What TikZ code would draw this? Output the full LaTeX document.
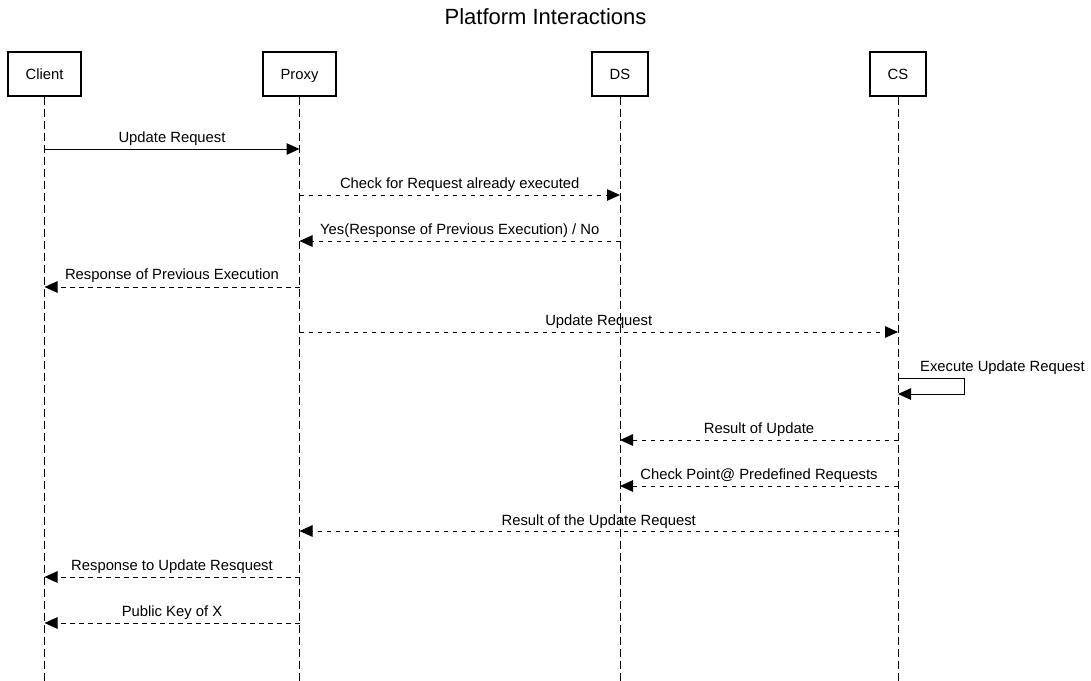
\documentclass[tikz,border=0pt]{standalone}
\usepackage{fontspec}
\setmainfont{Liberation Sans}
\usetikzlibrary{arrows.meta,calc}
\begin{document}
\begin{tikzpicture}[x=1pt,y=-1pt,
  actor/.style={draw,line width=2pt,minimum height=44pt,inner sep=0pt,text height=10.6pt,text depth=0pt,font=\fontsize{14.8}{16}\selectfont},
  life/.style={line width=1pt,dash pattern=on 8pt off 4pt},
  msg/.style={line width=1pt,-{Triangle[length=13pt,width=11.5pt]}},
  rmsg/.style={msg,dash pattern=on 4.5pt off 4.5pt},
  lbl/.style={font=\fontsize{14.8}{16}\selectfont,inner sep=0pt}]
\useasboundingbox (0,0) rectangle (1091,680);
\node[font=\fontsize{22}{24}\selectfont] (title) at (545.5,17) {Platform Interactions};
\node[actor,minimum width=73pt] (client) at (44.5,74) {Client};
\node[actor,minimum width=73pt] (proxy) at (299.5,74) {Proxy};
\node[actor,minimum width=56pt] (ds) at (620,74) {DS};
\node[actor,minimum width=56pt] (cs) at (898,74) {CS};
\foreach \a in {client,proxy,ds,cs}{
  \coordinate (\a-end) at (\a |- 0,681);
  \draw[life] (\a.south) -- (\a-end);
}
% messages
\draw[msg] (client |- 0,149) -- (proxy |- 0,149);
\node[lbl] (l1) at ($(client |- 0,139)!0.5!(proxy |- 0,139)$) {Update Request};
\draw[rmsg] (proxy |- 0,195) -- (ds |- 0,195);
\node[lbl] (l2) at ($(proxy |- 0,185)!0.5!(ds |- 0,185)$) {Check for Request already executed};
\draw[rmsg] (ds |- 0,241) -- (proxy |- 0,241);
\node[lbl] (l3) at ($(proxy |- 0,231)!0.5!(ds |- 0,231)$) {Yes(Response of Previous Execution) / No};
\draw[rmsg] (proxy |- 0,287) -- (client |- 0,287);
\node[lbl] (l4) at ($(client |- 0,276)!0.5!(proxy |- 0,276)$) {Response of Previous Execution};
\draw[rmsg] (proxy |- 0,332) -- (cs |- 0,332);
\node[lbl] (l5) at ($(proxy |- 0,322)!0.5!(cs |- 0,322)$) {Update Request};
\coordinate (s1) at (964,378);
\coordinate (s2) at (964,394);
\draw[msg] (cs |- 0,378) -- (s1) -- (s2) -- (cs |- 0,394);
\node[lbl,anchor=west] (l6) at (920,368) {Execute Update Request};
\draw[rmsg] (cs |- 0,440) -- (ds |- 0,440);
\node[lbl] (l7) at ($(ds |- 0,430)!0.5!(cs |- 0,430)$) {Result of Update};
\draw[rmsg] (cs |- 0,486) -- (ds |- 0,486);
\node[lbl] (l8) at ($(ds |- 0,476)!0.5!(cs |- 0,476)$) {Check Point@ Predefined Requests};
\draw[rmsg] (cs |- 0,531) -- (proxy |- 0,531);
\node[lbl] (l9) at ($(proxy |- 0,522)!0.5!(cs |- 0,522)$) {Result of the Update Request};
\draw[rmsg] (proxy |- 0,577) -- (client |- 0,577);
\node[lbl] (l10) at ($(client |- 0,567)!0.5!(proxy |- 0,567)$) {Response to Update Resquest};
\draw[rmsg] (proxy |- 0,623) -- (client |- 0,623);
\node[lbl] (l11) at ($(client |- 0,613)!0.5!(proxy |- 0,613)$) {Public Key of X};
\end{tikzpicture}
\end{document}
